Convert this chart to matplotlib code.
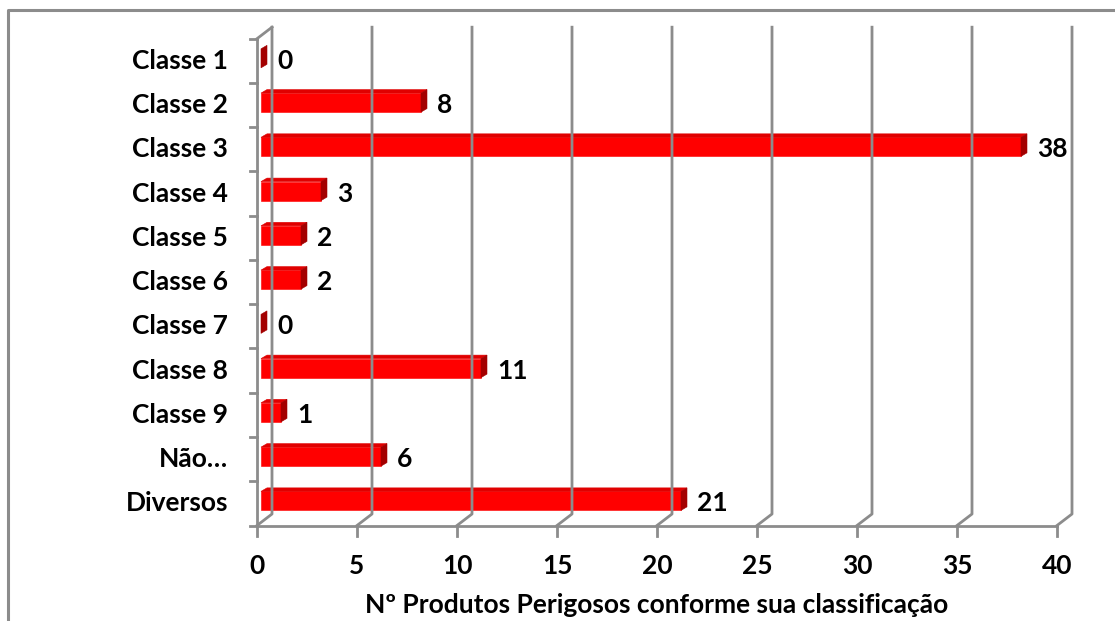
import matplotlib
matplotlib.use("Agg")
import matplotlib.pyplot as plt
from matplotlib.patches import Polygon
from matplotlib.lines import Line2D
from matplotlib.transforms import IdentityTransform

# Data
categories = ["Classe 1", "Classe 2", "Classe 3", "Classe 4", "Classe 5",
              "Classe 6", "Classe 7", "Classe 8", "Classe 9", "Não…", "Diversos"]
counts = [0, 8, 38, 3, 2, 2, 0, 11, 1, 6, 21]
x_ticks = [0, 5, 10, 15, 20, 25, 30, 35, 40]
x_title = "Nº Produtos Perigosos conforme sua classificação"

W, H = 1115, 621
DPI = 100
fig = plt.figure(figsize=(W / DPI, H / DPI), dpi=DPI)
fig.patch.set_facecolor("white")

# plot area (front plane)
ax = fig.add_axes([257 / W, (H - 525.5) / H, 800 / W, (525.5 - 38.7) / H])
n = len(categories)
ax.set_xlim(x_ticks[0], x_ticks[-1])
ax.set_ylim(n - 0.5, -0.5)
ax.axis("off")

FONT = ["Lato", "DejaVu Sans"]
FS = 19
GRID = "#8c8c8c"
WALL = (15, 11.5)      # back-wall offset in pixels
FRONT = (4, 2.5)       # bar front face shift into the depth
DEPTH = (6, 3.5)       # bar thickness in depth
BAR_H = 19             # front face height in pixels
TOP_C = "#e00000"
SIDE_C = "#a30000"
FACE_C = "#ff0000"

ident = IdentityTransform()


def disp(x, y):
    return ax.transData.transform((x, y))


def line(xs, ys, **kw):
    ax.add_artist(Line2D(xs, ys, transform=ident, clip_on=False, **kw))


def poly(pts, color):
    ax.add_artist(Polygon(pts, closed=True, transform=ident, clip_on=False,
                          facecolor=color, edgecolor=color, linewidth=0.4))


lw = 2.0
bottom_y = n - 0.5
top_y = -0.5

# back wall gridlines with floor connectors
for t in x_ticks:
    fx, fy = disp(t, bottom_y)
    _, ty = disp(t, top_y)
    line([fx, fx + WALL[0], fx + WALL[0]],
         [fy, fy + WALL[1], ty + WALL[1]], color=GRID, lw=lw)

# left wall top edge
lx, ly = disp(0, top_y)
line([lx, lx + WALL[0]], [ly, ly + WALL[1]], color=GRID, lw=lw)

# value axis (front)
x0, y0 = disp(0, bottom_y)
x1, _ = disp(x_ticks[-1], bottom_y)
line([x0, x1], [y0, y0], color=GRID, lw=lw)
for t in x_ticks:
    tx, ty = disp(t, bottom_y)
    line([tx, tx], [ty, ty - 10], color=GRID, lw=lw)
    ax.text(tx, ty - 40, str(t), transform=ident, ha="center", va="center",
            fontsize=FS, fontweight="bold", family=FONT, color="#000000")

# category axis (front)
line([x0, x0], [y0, ly], color=GRID, lw=lw)
for k in range(n + 1):
    _, by = disp(0, k - 0.5)
    line([x0 - 7, x0], [by, by], color=GRID, lw=lw)

# bars with a simple 3-D look
for i, (cat, v) in enumerate(zip(categories, counts)):
    sx, cy = disp(0, i)
    ex, _ = disp(v, i)
    L = sx + FRONT[0]
    R = ex + FRONT[0]
    B = cy + FRONT[1] - BAR_H / 2
    T = cy + FRONT[1] + BAR_H / 2
    dx, dy = DEPTH
    if v > 0:
        poly([(L, B), (R, B), (R, T), (L, T)], FACE_C)
        poly([(L, T), (R, T), (R + dx, T + dy), (L + dx, T + dy)], TOP_C)
    poly([(R, B), (R + dx, B + dy), (R + dx, T + dy), (R, T)], SIDE_C)
    ax.text(R + dx + 10, cy, str(v), transform=ident, ha="left", va="center",
            fontsize=FS, fontweight="bold", family=FONT, color="#000000")
    ax.text(x0 - 29, cy, cat, transform=ident, ha="right", va="center",
            fontsize=FS, fontweight="bold", family=FONT, color="#000000")

# axis title
ax.text((x0 + x1) / 2, 16, x_title, transform=ident, ha="center",
        va="center", fontsize=FS, fontweight="bold", family=FONT,
        color="#000000")

# chart-area border (top and left edges)
fig.add_artist(Line2D([8, 8, W], [0, H - 10, H - 10], transform=ident,
                      color="#8c8c8c", lw=2.2))

fig.savefig("out.png", dpi=DPI, facecolor="white")
